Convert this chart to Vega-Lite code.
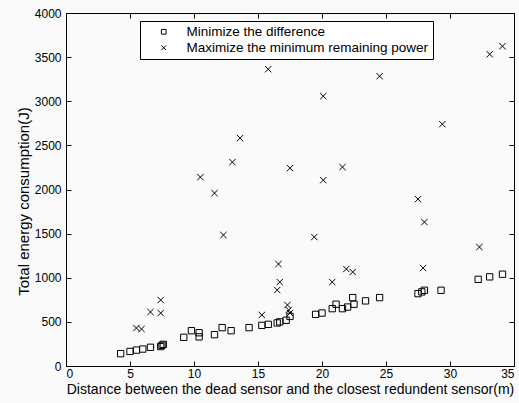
{
  "$schema": "https://vega.github.io/schema/vega-lite/v6.json",
  "width": 448,
  "height": 353,
  "autosize": "none",
  "padding": {"left": 66, "top": 13, "right": 5, "bottom": 37},
  "background": "#fafafa",
  "config": {
    "view": {"stroke": "black", "strokeWidth": 1, "fill": "#fafafa"},
    "font": "Liberation Sans",
    "axis": {"grid": false, "domain": false, "tickColor": "black", "labelColor": "black", "titleColor": "black", "labelFont": "Liberation Sans", "titleFont": "Liberation Sans", "labelFontSize": 12, "titleFontSize": 14, "titleFontWeight": "normal", "tickSize": -5, "format": "d"}
  },
  "data": {"values": [
    {"x": 4.27, "y": 140, "s": "Minimize the difference"},
    {"x": 5.0, "y": 165, "s": "Minimize the difference"},
    {"x": 5.5, "y": 180, "s": "Minimize the difference"},
    {"x": 6.0, "y": 192, "s": "Minimize the difference"},
    {"x": 6.6, "y": 212, "s": "Minimize the difference"},
    {"x": 7.4, "y": 220, "s": "Minimize the difference"},
    {"x": 7.5, "y": 234, "s": "Minimize the difference"},
    {"x": 7.6, "y": 245, "s": "Minimize the difference"},
    {"x": 9.2, "y": 325, "s": "Minimize the difference"},
    {"x": 9.8, "y": 400, "s": "Minimize the difference"},
    {"x": 10.4, "y": 377, "s": "Minimize the difference"},
    {"x": 10.4, "y": 330, "s": "Minimize the difference"},
    {"x": 11.6, "y": 355, "s": "Minimize the difference"},
    {"x": 12.2, "y": 435, "s": "Minimize the difference"},
    {"x": 12.9, "y": 400, "s": "Minimize the difference"},
    {"x": 14.3, "y": 435, "s": "Minimize the difference"},
    {"x": 15.3, "y": 460, "s": "Minimize the difference"},
    {"x": 15.8, "y": 472, "s": "Minimize the difference"},
    {"x": 16.5, "y": 488, "s": "Minimize the difference"},
    {"x": 16.7, "y": 500, "s": "Minimize the difference"},
    {"x": 17.2, "y": 518, "s": "Minimize the difference"},
    {"x": 17.5, "y": 562, "s": "Minimize the difference"},
    {"x": 19.5, "y": 585, "s": "Minimize the difference"},
    {"x": 20.0, "y": 600, "s": "Minimize the difference"},
    {"x": 20.8, "y": 650, "s": "Minimize the difference"},
    {"x": 21.1, "y": 700, "s": "Minimize the difference"},
    {"x": 21.6, "y": 650, "s": "Minimize the difference"},
    {"x": 22.0, "y": 668, "s": "Minimize the difference"},
    {"x": 22.5, "y": 700, "s": "Minimize the difference"},
    {"x": 22.4, "y": 775, "s": "Minimize the difference"},
    {"x": 23.4, "y": 738, "s": "Minimize the difference"},
    {"x": 24.5, "y": 775, "s": "Minimize the difference"},
    {"x": 27.5, "y": 820, "s": "Minimize the difference"},
    {"x": 27.8, "y": 840, "s": "Minimize the difference"},
    {"x": 28.0, "y": 858, "s": "Minimize the difference"},
    {"x": 29.3, "y": 858, "s": "Minimize the difference"},
    {"x": 32.2, "y": 982, "s": "Minimize the difference"},
    {"x": 33.1, "y": 1010, "s": "Minimize the difference"},
    {"x": 34.1, "y": 1040, "s": "Minimize the difference"},
    {"x": 15.8, "y": 3363, "s": "Maximize the minimum remaining power"},
    {"x": 20.1, "y": 3058, "s": "Maximize the minimum remaining power"},
    {"x": 24.5, "y": 3284, "s": "Maximize the minimum remaining power"},
    {"x": 29.4, "y": 2740, "s": "Maximize the minimum remaining power"},
    {"x": 33.1, "y": 3533, "s": "Maximize the minimum remaining power"},
    {"x": 34.1, "y": 3624, "s": "Maximize the minimum remaining power"},
    {"x": 13.6, "y": 2582, "s": "Maximize the minimum remaining power"},
    {"x": 13.0, "y": 2310, "s": "Maximize the minimum remaining power"},
    {"x": 10.5, "y": 2140, "s": "Maximize the minimum remaining power"},
    {"x": 11.6, "y": 1959, "s": "Maximize the minimum remaining power"},
    {"x": 17.5, "y": 2242, "s": "Maximize the minimum remaining power"},
    {"x": 21.6, "y": 2254, "s": "Maximize the minimum remaining power"},
    {"x": 20.1, "y": 2106, "s": "Maximize the minimum remaining power"},
    {"x": 27.5, "y": 1891, "s": "Maximize the minimum remaining power"},
    {"x": 28.0, "y": 1631, "s": "Maximize the minimum remaining power"},
    {"x": 12.3, "y": 1484, "s": "Maximize the minimum remaining power"},
    {"x": 19.4, "y": 1461, "s": "Maximize the minimum remaining power"},
    {"x": 32.3, "y": 1348, "s": "Maximize the minimum remaining power"},
    {"x": 16.6, "y": 1155, "s": "Maximize the minimum remaining power"},
    {"x": 16.7, "y": 951, "s": "Maximize the minimum remaining power"},
    {"x": 16.5, "y": 861, "s": "Maximize the minimum remaining power"},
    {"x": 21.9, "y": 1099, "s": "Maximize the minimum remaining power"},
    {"x": 22.4, "y": 1065, "s": "Maximize the minimum remaining power"},
    {"x": 27.9, "y": 1110, "s": "Maximize the minimum remaining power"},
    {"x": 20.8, "y": 951, "s": "Maximize the minimum remaining power"},
    {"x": 7.4, "y": 747, "s": "Maximize the minimum remaining power"},
    {"x": 6.6, "y": 612, "s": "Maximize the minimum remaining power"},
    {"x": 7.4, "y": 600, "s": "Maximize the minimum remaining power"},
    {"x": 5.5, "y": 430, "s": "Maximize the minimum remaining power"},
    {"x": 5.9, "y": 419, "s": "Maximize the minimum remaining power"},
    {"x": 15.3, "y": 578, "s": "Maximize the minimum remaining power"},
    {"x": 17.3, "y": 691, "s": "Maximize the minimum remaining power"},
    {"x": 17.4, "y": 634, "s": "Maximize the minimum remaining power"},
    {"x": 17.5, "y": 600, "s": "Maximize the minimum remaining power"}
  ]},
  "layer": [
    {
      "mark": {"type": "point", "filled": false, "stroke": "black", "strokeWidth": 1, "size": 40, "opacity": 1},
      "encoding": {
        "x": {"field": "x", "type": "quantitative", "scale": {"domain": [0, 35], "nice": false}, "axis": {"values": [0, 5, 10, 15, 20, 25, 30, 35], "title": "Distance between the dead sensor and the closest redundent sensor(m)", "labelPadding": 7, "titlePadding": 3}},
        "y": {"field": "y", "type": "quantitative", "scale": {"domain": [0, 4000], "nice": false}, "axis": {"values": [0, 500, 1000, 1500, 2000, 2500, 3000, 3500, 4000], "title": "Total energy consumption(J)", "titleFontSize": 15, "labelPadding": 10, "titlePadding": 3, "titleY": 188}},
        "shape": {"field": "s", "type": "nominal", "scale": {"domain": ["Minimize the difference", "Maximize the minimum remaining power"], "range": ["square", "M-1,-1L1,1M-1,1L1,-1"]},
          "legend": {"title": null, "orient": "none", "legendX": 74, "legendY": 8, "fillColor": "white", "strokeColor": "black", "padding": 4, "labelFontSize": 13.5, "labelFont": "Liberation Sans", "labelColor": "black", "labelLimit": 0, "symbolSize": 22, "symbolStrokeColor": "black", "symbolStrokeWidth": 1, "symbolFillColor": "transparent", "rowPadding": 1, "labelOffset": 16, "symbolOffset": 13}}
      }
    },
    {
      "mark": {"type": "point", "opacity": 0},
      "encoding": {
        "x": {"field": "x", "type": "quantitative", "axis": {"orient": "top", "values": [0, 5, 10, 15, 20, 25, 30, 35], "labels": false, "title": null}},
        "y": {"field": "y", "type": "quantitative", "axis": {"orient": "right", "values": [0, 500, 1000, 1500, 2000, 2500, 3000, 3500, 4000], "labels": false, "title": null}}
      }
    }
  ],
  "resolve": {"axis": {"x": "independent", "y": "independent"}}
}
